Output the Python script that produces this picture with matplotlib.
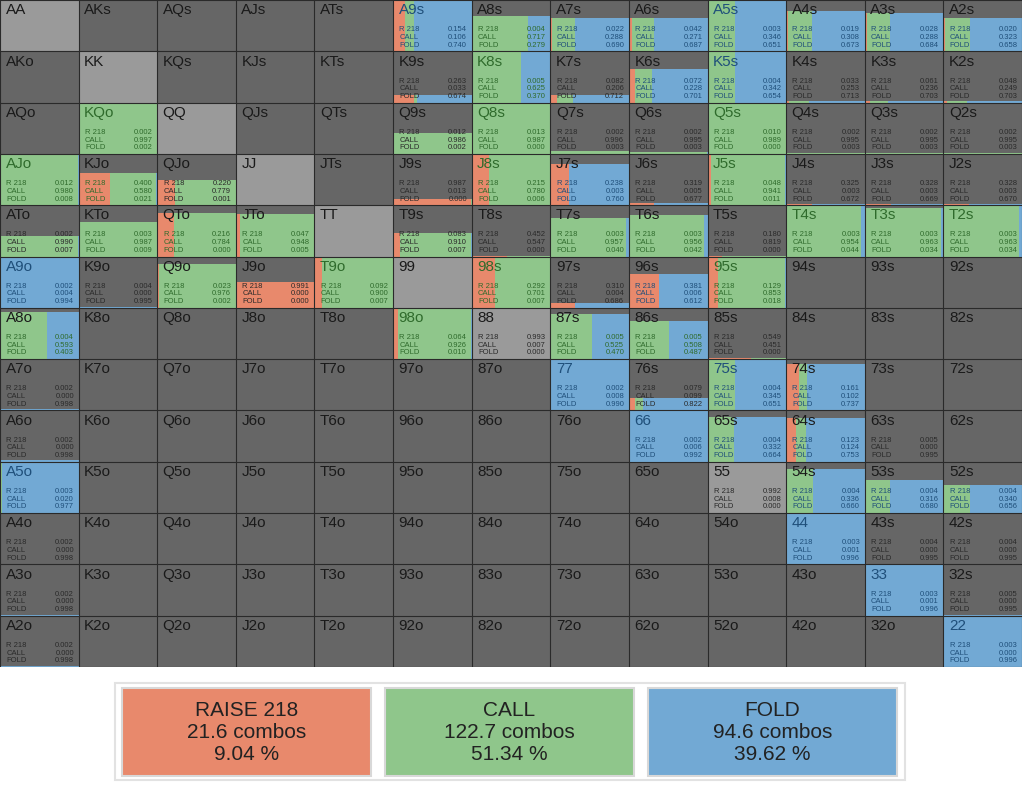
import matplotlib
matplotlib.use("Agg")
import matplotlib.pyplot as plt
from matplotlib.patches import Rectangle

plt.rcParams["font.family"] = "Liberation Sans"

ranks = ["A", "K", "Q", "J", "T", "9", "8", "7", "6", "5", "4", "3", "2"]

# hand -> (weight, raise, call, fold); hands absent are out of range (no stats)
hands = {
 "A9s": (1.0, 0.154, 0.106, 0.740), "A8s": (0.68, 0.004, 0.717, 0.279),
 "A7s": (0.65, 0.022, 0.288, 0.690), "A6s": (0.65, 0.042, 0.271, 0.687),
 "A5s": (1.0, 0.003, 0.346, 0.651), "A4s": (0.78, 0.019, 0.308, 0.673),
 "A3s": (0.75, 0.028, 0.288, 0.684), "A2s": (0.65, 0.020, 0.323, 0.658),
 "K9s": (0.15, 0.263, 0.033, 0.674), "K8s": (1.0, 0.005, 0.625, 0.370),
 "K7s": (0.15, 0.082, 0.206, 0.712), "K6s": (0.65, 0.072, 0.228, 0.701),
 "K5s": (1.0, 0.004, 0.342, 0.654), "K4s": (0.03, 0.033, 0.253, 0.713),
 "K3s": (0.03, 0.061, 0.236, 0.703), "K2s": (0.03, 0.048, 0.249, 0.703),
 "KQo": (1.0, 0.002, 0.997, 0.002), "Q9s": (0.40, 0.012, 0.986, 0.002),
 "Q8s": (1.0, 0.013, 0.987, 0.000), "Q7s": (0.05, 0.002, 0.996, 0.003),
 "Q6s": (0.03, 0.002, 0.995, 0.003), "Q5s": (1.0, 0.010, 0.989, 0.000),
 "Q4s": (0.02, 0.002, 0.995, 0.003), "Q3s": (0.02, 0.002, 0.995, 0.003),
 "Q2s": (0.02, 0.002, 0.995, 0.003),
 "AJo": (1.0, 0.012, 0.980, 0.008), "KJo": (0.62, 0.400, 0.580, 0.021),
 "QJo": (0.50, 0.220, 0.779, 0.001), "J9s": (0.12, 0.987, 0.013, 0.000),
 "J8s": (1.0, 0.215, 0.780, 0.006), "J7s": (0.80, 0.238, 0.003, 0.760),
 "J6s": (0.05, 0.319, 0.005, 0.677), "J5s": (1.0, 0.048, 0.941, 0.011),
 "J4s": (0.02, 0.325, 0.003, 0.672), "J3s": (0.02, 0.328, 0.003, 0.669),
 "J2s": (0.02, 0.328, 0.003, 0.670),
 "ATo": (0.40, 0.002, 0.990, 0.007), "KTo": (0.68, 0.003, 0.987, 0.009),
 "QTo": (0.85, 0.216, 0.784, 0.000), "JTo": (0.82, 0.047, 0.948, 0.005),
 "T9s": (0.45, 0.083, 0.910, 0.007), "T8s": (0.02, 0.452, 0.547, 0.000),
 "T7s": (0.75, 0.003, 0.957, 0.040), "T6s": (0.80, 0.003, 0.956, 0.042),
 "T5s": (0.02, 0.180, 0.819, 0.000), "T4s": (1.0, 0.003, 0.954, 0.044),
 "T3s": (0.95, 0.003, 0.963, 0.034), "T2s": (1.0, 0.003, 0.963, 0.034),
 "A9o": (1.0, 0.002, 0.004, 0.994), "K9o": (0.02, 0.004, 0.000, 0.995),
 "Q9o": (0.85, 0.023, 0.976, 0.002), "J9o": (0.50, 0.991, 0.000, 0.000),
 "T9o": (1.0, 0.092, 0.900, 0.007), "98s": (1.0, 0.292, 0.701, 0.007),
 "97s": (0.10, 0.310, 0.004, 0.686), "96s": (0.65, 0.381, 0.006, 0.612),
 "95s": (1.0, 0.129, 0.853, 0.018),
 "A8o": (0.92, 0.004, 0.593, 0.403), "98o": (1.0, 0.064, 0.926, 0.010),
 "88": (0.0, 0.993, 0.007, 0.000), "87s": (0.88, 0.005, 0.525, 0.470),
 "86s": (0.75, 0.005, 0.508, 0.487), "85s": (0.02, 0.549, 0.451, 0.000),
 "A7o": (0.03, 0.002, 0.000, 0.998), "77": (1.0, 0.002, 0.008, 0.990),
 "76s": (0.25, 0.079, 0.099, 0.822), "75s": (1.0, 0.004, 0.345, 0.651),
 "74s": (0.90, 0.161, 0.102, 0.737),
 "A6o": (0.03, 0.002, 0.000, 0.998), "66": (1.0, 0.002, 0.006, 0.992),
 "65s": (0.88, 0.004, 0.332, 0.664), "64s": (0.85, 0.123, 0.124, 0.753),
 "63s": (0.0, 0.005, 0.000, 0.995),
 "A5o": (1.0, 0.003, 0.020, 0.977), "55": (0.0, 0.992, 0.008, 0.000),
 "54s": (0.85, 0.004, 0.336, 0.660), "53s": (0.65, 0.004, 0.316, 0.680),
 "52s": (0.55, 0.004, 0.340, 0.656),
 "A4o": (0.01, 0.002, 0.000, 0.998), "44": (1.0, 0.003, 0.001, 0.996),
 "43s": (0.01, 0.004, 0.000, 0.995), "42s": (0.01, 0.004, 0.000, 0.995),
 "A3o": (0.01, 0.002, 0.000, 0.998), "33": (1.0, 0.003, 0.001, 0.996),
 "32s": (0.01, 0.005, 0.000, 0.995),
 "A2o": (0.01, 0.002, 0.000, 0.998), "22": (1.0, 0.003, 0.000, 0.996),
}

summary_labels = ["RAISE 218", "CALL", "FOLD"]
summary_combos = [21.6, 122.7, 94.6]
summary_pct = [9.04, 51.34, 39.62]

C_R, C_C, C_F = "#e8896c", "#8fc68b", "#72a9d4"
DARK_R, DARK_C, DARK_F = "#8a3a22", "#2f6b2c", "#1f4f7a"
BG, PAIR = "#666666", "#9a9a9a"

fig = plt.figure(figsize=(10.24, 8.0), dpi=100)
fig.patch.set_facecolor("white")
ax = fig.add_axes([0.0, 1 - 667 / 800, 1022 / 1024, 667 / 800])
ax.set_xlim(0, 13)
ax.set_ylim(13, 0)
ax.axis("off")

for i, r1 in enumerate(ranks):
    for j, r2 in enumerate(ranks):
        if i == j:
            name = r1 + r2
        elif j > i:
            name = r1 + r2 + "s"
        else:
            name = r2 + r1 + "o"
        ax.add_patch(Rectangle((j, i), 1, 1, facecolor=PAIR if i == j else BG,
                               edgecolor="none"))
        txtcol = "#1a1a1a"
        statcol = "#2a2a2a"
        if name in hands:
            w, r, c, f = hands[name]
            tot = r + c + f
            x0 = j
            for frac, col in ((r, C_R), (c, C_C), (f, C_F)):
                width = frac / tot
                if w > 0 and width > 0:
                    ax.add_patch(Rectangle((x0, i + 1 - w), width, w,
                                           facecolor=col, edgecolor="none"))
                x0 += width
            if w > 0.5:
                dom = max((r, DARK_R), (c, DARK_C), (f, DARK_F))[1]
                txtcol = dom if w >= 0.95 else "#1a1a1a"
                statcol = dom
            for k, (lab, v) in enumerate((("R 218", r), ("CALL", c), ("FOLD", f))):
                yy = i + 0.58 + k * 0.15
                ax.text(j + 0.08, yy, lab, fontsize=5.5, color=statcol,
                        va="center", ha="left")
                ax.text(j + 0.94, yy, f"{v:.3f}", fontsize=5.5, color=statcol,
                        va="center", ha="right")
        ax.text(j + 0.07, i + 0.2, name, fontsize=11, color=txtcol,
                va="center", ha="left")

for k in range(14):
    ax.plot([k, k], [0, 13], color="#2a2a2a", lw=0.8)
    ax.plot([0, 13], [k, k], color="#2a2a2a", lw=0.8)

# summary boxes
lax = fig.add_axes([0, 0, 1, 1 - 667 / 800])
lax.set_xlim(0, 1024)
lax.set_ylim(133, 0)
lax.axis("off")
lax.add_patch(Rectangle((115, 16), 790, 97, facecolor="none",
                        edgecolor="#e2e2e2", lw=1.5))
lefts = [122, 385, 648]
for x, lab, cmb, pct, col in zip(lefts, summary_labels, summary_combos,
                                 summary_pct, [C_R, C_C, C_F]):
    lax.add_patch(Rectangle((x, 21), 249, 88, facecolor=col,
                            edgecolor="#d8d8d8", lw=1.5))
    lax.text(x + 124.5, 65, f"{lab}\n{cmb} combos\n{pct:.2f} %",
             fontsize=15, ha="center", va="center", color="#222222",
             linespacing=1.2)

fig.savefig("out.png", dpi=100)
